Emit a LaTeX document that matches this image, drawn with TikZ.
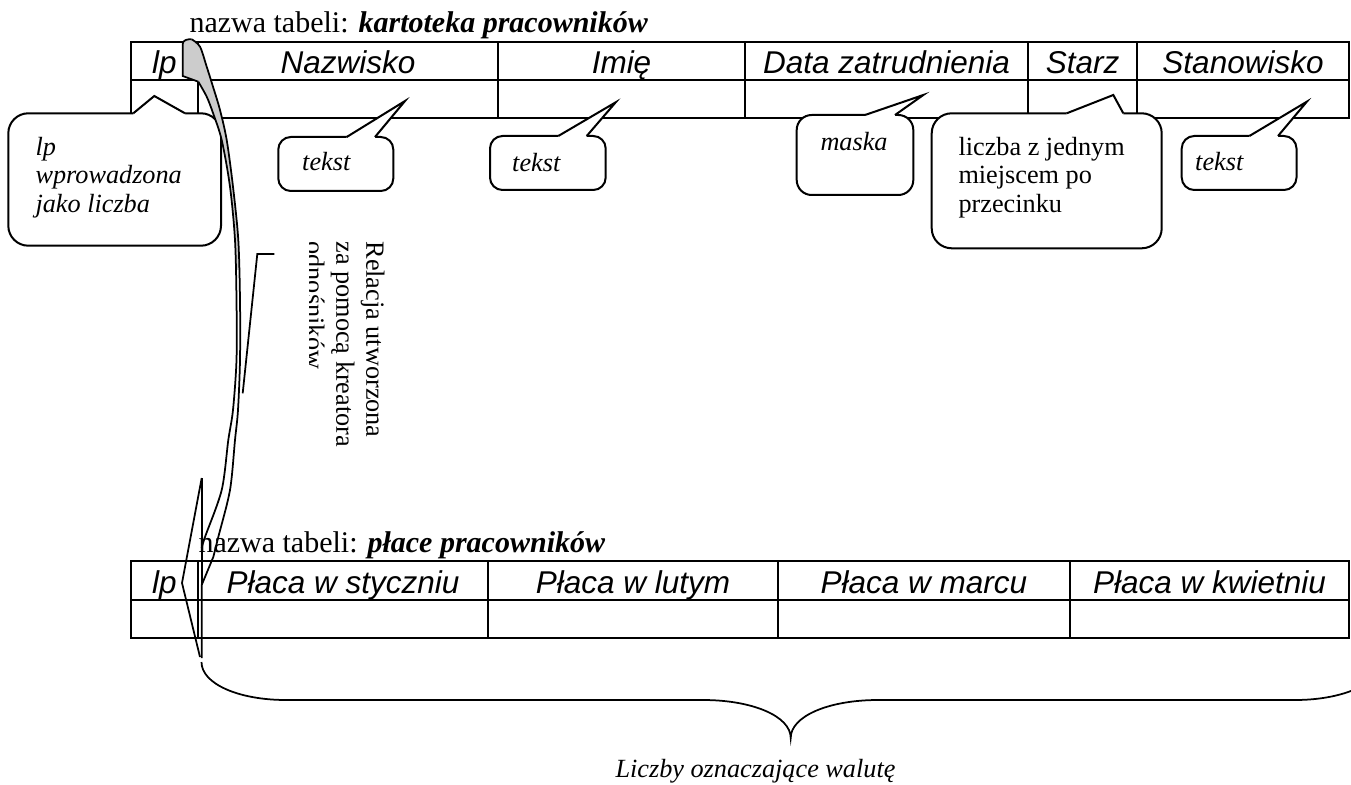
\documentclass[tikz,border=0pt]{standalone}
\usepackage{fontspec}
\setmainfont{Liberation Serif}
\newfontfamily\arialfont{Liberation Sans}
\usepackage{tikz}
\usetikzlibrary{positioning}

% callout: x1, y1, x2, y2, radius, pointer base left, pointer base right, tip
\newcommand{\bubble}[8]{%
  \draw[bubble line, fill=white, rounded corners=#5] (#1,#2) rectangle (#3,#4);
  \fill[white] (#6,#2) -- (#8) -- (#7,#2) -- (#7,#2+3) -- (#6,#2+3) -- cycle;
  \draw[bubble line] (#6,#2) -- (#8) -- (#7,#2);
}

\begin{document}
\begin{tikzpicture}[x=0.4pt, y=-0.4pt,
  grid line/.style={line width=1pt},
  head/.style={font=\arialfont\itshape\fontsize{12.6}{15}\selectfont, inner sep=0pt, anchor=base},
  title/.style={font=\fontsize{12}{14}\selectfont, inner sep=0pt, anchor=base west},
  note/.style={font=\fontsize{10.5}{11.3}\selectfont, inner sep=0pt, align=left},
  inote/.style={note, font=\fontsize{10.5}{11.3}\selectfont\itshape},
  bubble line/.style={line width=0.8pt},
  band/.style={line width=0.7pt}]
\useasboundingbox (0,0) rectangle (1351,785);
\clip (0,0) rectangle (1351,785);

% titles
\node[title] (title1) at (189,33) {nazwa tabeli: \textbf{\textit{kartoteka pracowników}}};
\node[title] (title2) at (198,552) {nazwa tabeli: \textbf{\textit{płace pracowników}}};

% table 1
\draw[grid line] (131,42) rectangle (1349,118);
\draw[grid line] (131,80) -- (1349,80);
\foreach \x in {198,498,745,1028,1137}
  \draw[grid line] (\x,42) -- (\x,118);
\foreach \c/\t [count=\i] in {164.5/lp, 348/Nazwisko, 621.5/Imię, 886.5/Data zatrudnienia, 1082.5/Starz, 1243/Stanowisko}
  \node[head] (kart\i) at (\c,74) {\t};

% table 2
\draw[grid line] (131,561) rectangle (1349,638);
\draw[grid line] (131,600) -- (1349,600);
\foreach \x in {198,488,778,1070}
  \draw[grid line] (\x,561) -- (\x,638);
\foreach \c/\t [count=\i] in {164.5/lp, 343/Płaca w styczniu, 633/Płaca w lutym, 924/Płaca w marcu, 1209.5/Płaca w kwietniu}
  \node[head] (placa\i) at (\c,593) {\t};

% callouts
\coordinate (tipLp) at (154.3,96);
\coordinate (tipNazw) at (405,101);
\coordinate (tipImie) at (615.7,102.3);
\coordinate (tipData) at (923.3,95);
\coordinate (tipStarz) at (1113.3,95);
\coordinate (tipStan) at (1306.8,101.7);
\bubble{8.3}{113.3}{221}{245.7}{8pt}{133.3}{185}{tipLp}
\bubble{278.3}{137}{393.3}{191}{5pt}{346.7}{375}{tipNazw}
\bubble{490}{136}{605.7}{190}{5pt}{558.3}{586.7}{tipImie}
\bubble{796.7}{115}{913.3}{195}{6pt}{865}{895}{tipData}
\bubble{931.7}{113.3}{1161.7}{248.3}{8pt}{1066.7}{1123.3}{tipStarz}
\bubble{1181.7}{136}{1296.5}{190}{5pt}{1249.4}{1278}{tipStan}

\node[inote, anchor=north west] (lpNote) at (35,137) {lp\\wprowadzona\\jako liczba};
\node[inote, anchor=base west] (nazwNote) at (301.7,171) {tekst};
\node[inote, anchor=base west] (imieNote) at (511.7,172) {tekst};
\node[inote, anchor=base west] (dataNote) at (820,151) {maska};
\node[note, anchor=north west] (starzNote) at (958,137) {liczba z jednym\\miejscem po\\przecinku};
\node[inote, anchor=base west] (stanNote) at (1194.7,171) {tekst};

% relation arrow
\fill[gray!40] (182.7,76) -- (182.7,44) to[out=90,in=175] (191.7,39.3)
  -- plot[smooth] coordinates {(191.7,39.3) (200,46.7) (206.7,66.7) (213,86.7) (220,110) (226.7,140) (233,186.7) (238.3,240) (239.5,270)}
  -- plot[smooth] coordinates {(236,270) (235,240) (230,186.7) (221.7,140) (213,113) (206.7,96.7) (198.3,81.7)} -- cycle;
\draw[band] (198.3,81.7) -- (182.7,76) -- (182.7,44) to[out=90,in=175] (191.7,39.3);
\draw[band] plot[smooth] coordinates {(191.7,39.3) (200,46.7) (206.7,66.7) (213,86.7) (220,110) (226.7,140) (233,186.7) (238.3,240) (240,300) (240,360) (238,410) (235,440) (230,490) (218.3,537) (213.3,557)}
  -- (201.7,585) -- (201.7,658);
\draw[band] plot[smooth] coordinates {(198.3,81.7) (206.7,96.7) (213,113) (221.7,140) (230,186.7) (235,240) (236.5,300) (236.5,360) (233,410) (228.3,440) (221.7,490) (205,537) (201.7,548)};
\draw[band] (201.7,478) -- (182,583) -- (200,657);
\draw[band] (201.7,478) -- (201.7,585);

% relation label
\coordinate (barTop) at (274.3,254);
\coordinate (barEnd) at (242.7,393.3);
\draw[band] (barTop) -- (257.3,254) -- (barEnd);
\begin{scope}
  \clip (309,230) rectangle (400,470);
  \node[note, font=\fontsize{10.5}{12}\selectfont, rotate=-90, anchor=north west] (relacja) at (385,241) {Relacja utworzona\\za pomocą kreatora\\odnośników};
\end{scope}

% brace
\draw[band] (201.5,662) .. controls (201.5,684) and (239,700) .. (286,700) -- (703,700)
  .. controls (752,700) and (790.7,716) .. (790.7,738)
  .. controls (790.7,716) and (829,700) .. (878,700) -- (1295,700)
  .. controls (1342,700) and (1380,684) .. (1380,662);
\node[inote, anchor=base west] (waluta) at (615,777) {Liczby oznaczające walutę};
\end{tikzpicture}
\end{document}
